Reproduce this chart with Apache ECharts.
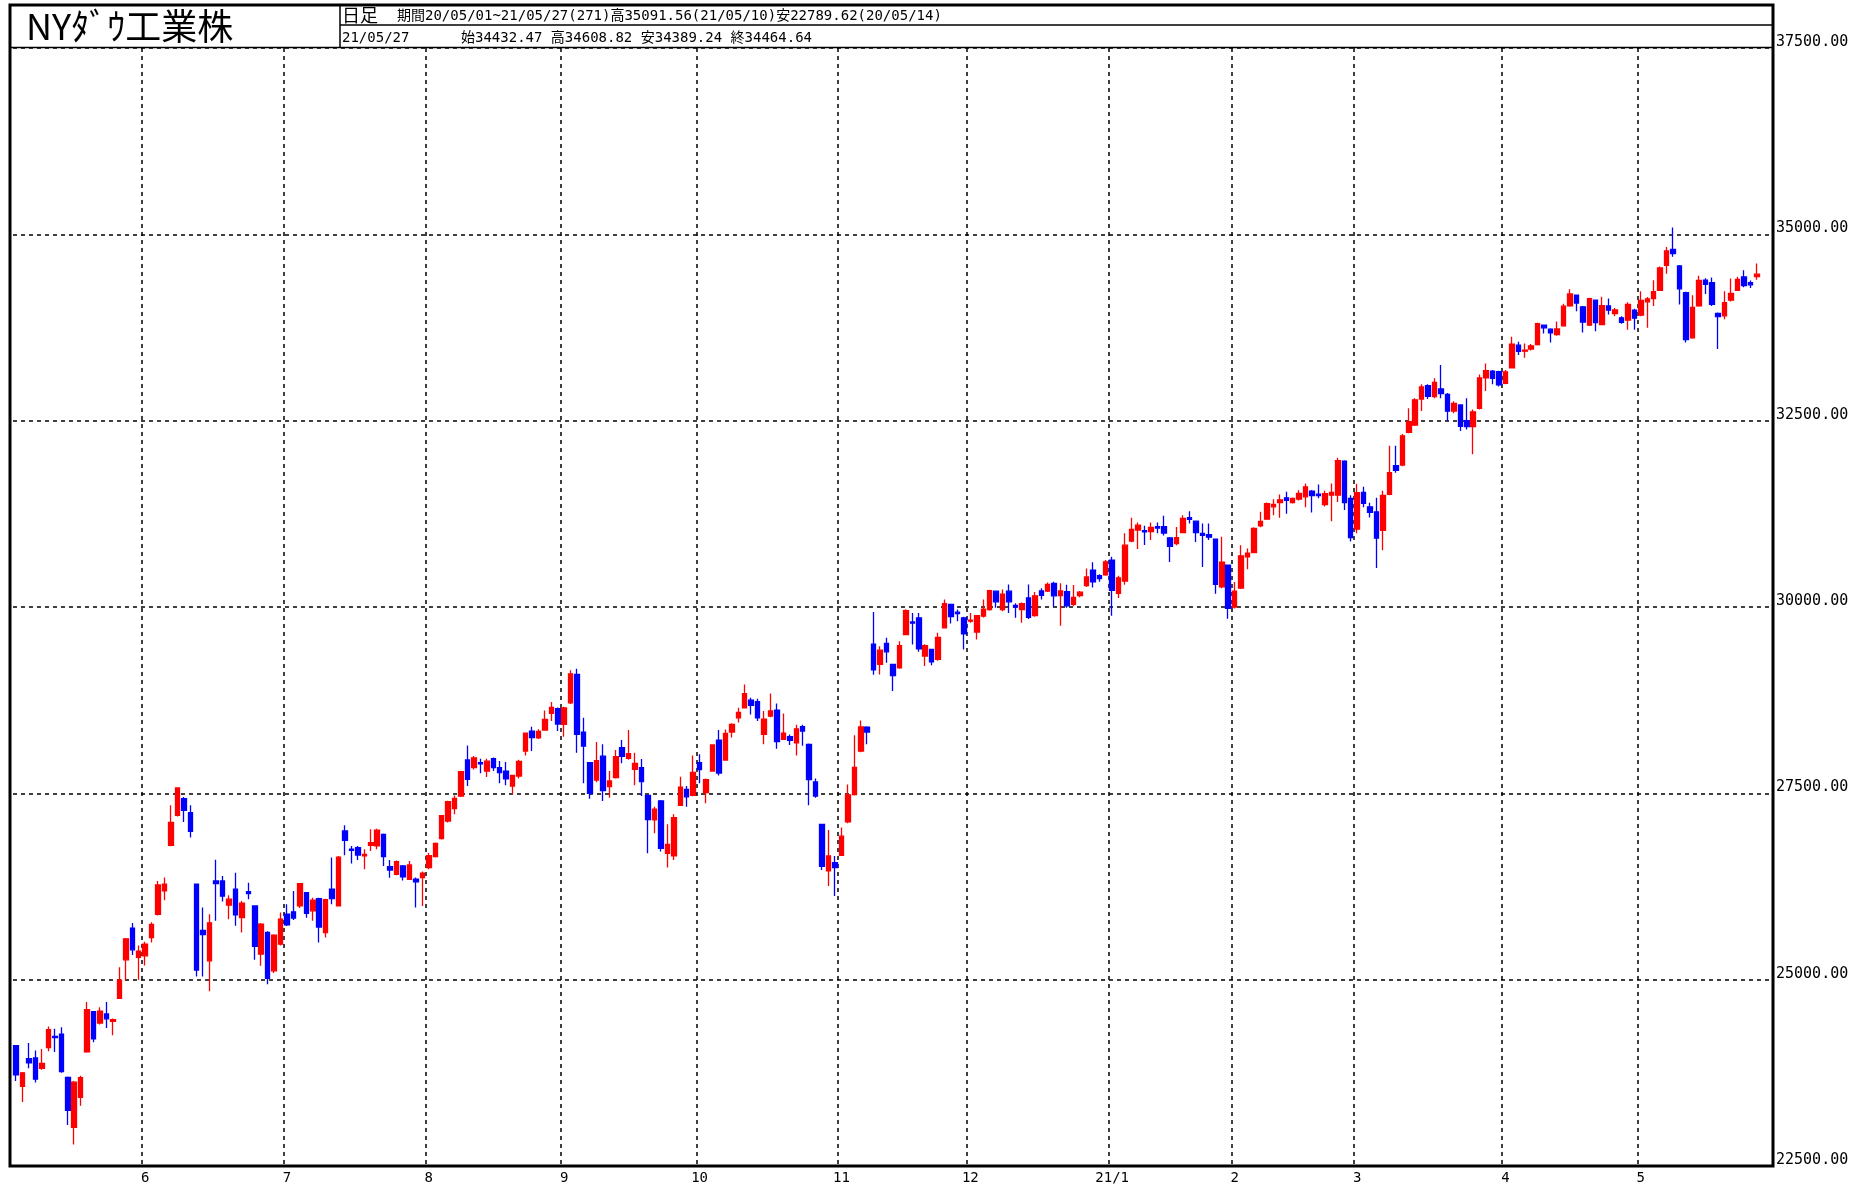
<!DOCTYPE html>
<html>
<head>
<meta charset="utf-8">
<title>NYダウ工業株 日足</title>
<script src="https://cdn.jsdelivr.net/npm/echarts@6/dist/echarts.min.js"></script>
<style>
  html, body { margin: 0; padding: 0; background: #fff; }
  #chart { width: 1862px; height: 1186px; }
</style>
</head>
<body>
<div id="chart"></div>
<script>
// NYダウ 日足 2020/05/01 - 2021/05/27 (271本)
const startDate = '2020-05-01';
const endDate = '2021-05-27';
const holidays = ['2020-05-25', '2020-07-03', '2020-09-07', '2020-11-26', '2020-12-25',
  '2021-01-01', '2021-01-18', '2021-02-15', '2021-04-02'];
const monthLabels = ['6', '7', '8', '9', '10', '11', '12', '21/1', '2', '3', '4', '5'];
const yTicks = { min: 22500, max: 37500, step: 2500 };

const opens = [
  24114, 23569, 23940, 23950, 23810, 24090, 24240, 24270, 23690, 23020,
  23420, 24030, 24570, 24417, 24540, 24440, 24748, 25266, 25690, 25300,
  25320, 25566, 25878, 26191, 26803, 27205, 27429, 27241, 26280, 25660,
  25253, 26325, 26325, 25999, 26214, 25834, 26180, 25990, 25342, 25633,
  25119, 25476, 25878, 25910, 25990, 26169, 25923, 26088, 25632, 26213,
  25990, 26995, 26750, 26772, 26660, 26803, 26794, 26950, 26517, 26414,
  26526, 26347, 26347, 26369, 26503, 26651, 26893, 27129, 27294, 27464,
  27947, 27844, 27911, 27799, 27964, 27844, 27799, 27598, 27732, 28067,
  28335, 28246, 28349, 28572, 28635, 28425, 28715, 29095, 28322, 27911,
  27679, 27999, 27589, 27710, 28112, 27969, 27821, 27844, 27473, 27143,
  27397, 26696, 26660, 27339, 27554, 27473, 27911, 27509, 27799, 28215,
  27947, 28322, 28514, 28648, 28751, 28729, 28291, 28536, 28617, 28224,
  28260, 28179, 28394, 28157, 27652, 27084, 26459, 26570, 26669, 27116,
  27482, 28067, 28389, 29500, 29229, 29511, 29229, 29185, 29631, 29800,
  29855, 29341, 29430, 29296, 29721, 30034, 29930, 29855, 29810, 29663,
  29877, 29966, 30212, 29966, 30212, 30020, 29966, 30123, 29884, 30215,
  30215, 30318, 30152, 30206, 30036, 30152, 30286, 30496, 30420, 30430,
  30630, 30184, 30349, 30885, 31032, 31025, 31010, 31077, 31077, 30927,
  30851, 30999, 31200, 31151, 30986, 30972, 30909, 30269, 30560, 30000,
  30255, 30672, 30730, 31088, 31178, 31344, 31402, 31465, 31402, 31447,
  31478, 31555, 31514, 31375, 31500, 31500, 31958, 31456, 31044, 31537,
  31344, 31277, 31030, 31510, 31895, 31904, 32343, 32442, 32791, 32970,
  32822, 32925, 32854, 32630, 32710, 32500, 32420, 32665, 33076, 33165,
  33156, 33000, 33210, 33513, 33433, 33460, 33522, 33781, 33728, 33656,
  33772, 34040, 34183, 34027, 33781, 34116, 33790, 34040, 33938, 33880,
  33848, 33982, 33915, 34094, 34138, 34250, 34585, 34799, 34576, 34219,
  33612, 34040, 34384, 34353, 33938, 33906, 34116, 34250, 34428, 34353,
  34432
];
const closes = [
  23724, 23750, 23883, 23665, 23876, 24331, 24222, 23765, 23248, 23625,
  23685, 24597, 24207, 24576, 24474, 24465, 24995, 25548, 25401, 25383,
  25475, 25743, 26270, 26282, 27111, 27572, 27272, 26990, 25128, 25606,
  25763, 26290, 26120, 26080, 25871, 26025, 26156, 25446, 25746, 25016,
  25596, 25813, 25735, 25827, 26287, 25890, 26067, 25706, 26075, 26086,
  26643, 26870, 26735, 26672, 26681, 26840, 27006, 26652, 26470, 26585,
  26379, 26540, 26314, 26428, 26664, 26828, 27202, 27387, 27433, 27791,
  27687, 27977, 27897, 27931, 27845, 27778, 27693, 27740, 27930, 28308,
  28248, 28332, 28492, 28654, 28430, 28646, 29101, 28293, 28133, 27501,
  27940, 27535, 27666, 27993, 27996, 28032, 27902, 27657, 27148, 27288,
  26763, 26815, 27174, 27584, 27453, 27782, 27817, 27683, 28149, 27773,
  28303, 28426, 28587, 28838, 28680, 28514, 28494, 28606, 28195, 28309,
  28211, 28364, 28336, 27685, 27463, 26520, 26659, 26502, 26925, 27480,
  27848, 28390, 28323, 29158, 29421, 29398, 29080, 29480, 29950, 29783,
  29438, 29483, 29263, 29591, 30046, 29872, 29910, 29639, 29824, 29884,
  29970, 30218, 30070, 30174, 30069, 29999, 30046, 29862, 30150, 30155,
  30303, 30150, 30216, 30016, 30130, 30199, 30404, 30336, 30380, 30606,
  30224, 30392, 30829, 31041, 31098, 31009, 31069, 31060, 30992, 30814,
  30930, 31188, 31176, 30997, 30960, 30937, 30303, 30603, 29983, 30212,
  30687, 30724, 31056, 31148, 31386, 31376, 31438, 31431, 31458, 31523,
  31613, 31493, 31494, 31522, 31537, 31962, 31402, 30932, 31535, 31392,
  31270, 30924, 31496, 31802, 31833, 32297, 32486, 32779, 32953, 32826,
  33015, 32862, 32628, 32731, 32423, 32420, 32619, 33073, 33171, 33067,
  32982, 33153, 33527, 33430, 33446, 33504, 33801, 33745, 33677, 33731,
  34036, 34201, 34078, 33821, 34137, 33816, 34043, 33982, 33985, 33820,
  34060, 33875, 34113, 34133, 34230, 34549, 34778, 34743, 34269, 33588,
  34021, 34382, 34328, 34061, 33896, 34084, 34208, 34394, 34312, 34323,
  34465
];
const lows = [
  23640, 23360, 23810, 23620, 23790, 24040, 24030, 23750, 23050, 22790,
  23310, 24020, 24160, 24400, 24350, 24255, 24740, 24990, 25330, 25000,
  25190, 25500, 25860, 26066, 26790, 27190, 27116, 26906, 25043, 25043,
  24843, 25789, 26050, 25812, 25722, 25633, 26080, 25267, 25186, 24940,
  25090, 25460, 25720, 25800, 25960, 25830, 25789, 25498, 25565, 26012,
  25980, 26669, 26558, 26606, 26481, 26727, 26749, 26526, 26369, 26400,
  26330, 26340, 25967, 25990, 26480, 26640, 26880, 27110, 27218, 27450,
  27598, 27820, 27768, 27720, 27800, 27634, 27607, 27487, 27700, 28009,
  28067, 28230, 28340, 28469, 28335, 28260, 28700, 28045, 27634, 27428,
  27650, 27397, 27442, 27700, 27902, 27950, 27607, 27464, 26696, 26964,
  26720, 26504, 26606, 27330, 27321, 27460, 27634, 27366, 27790, 27740,
  27940, 28250, 28450, 28640, 28559, 28470, 28157, 28520, 28099, 28215,
  28150, 28009, 28140, 27339, 27440, 26470, 26258, 26124, 26660, 27100,
  27470, 28050, 28157, 29090, 29095, 29252, 28872, 29170, 29620, 29497,
  29400, 29207, 29220, 29280, 29710, 29779, 29810, 29430, 29790, 29565,
  29860, 29950, 29990, 29944, 29921, 29855, 29788, 29840, 29870, 30100,
  30200, 30005, 29750, 29990, 30010, 30130, 30270, 30260, 30340, 30420,
  29884, 30120, 30300, 30870, 30778, 30831, 30898, 30990, 30960, 30605,
  30830, 30990, 31120, 30873, 30537, 30900, 30179, 30250, 29843, 29980,
  30240, 30506, 30720, 31070, 31170, 31232, 31196, 31250, 31390, 31430,
  31340, 31268, 31460, 31350, 31151, 31410, 31300, 30880, 30990, 31340,
  31200, 30524, 30762, 31500, 31800, 31890, 32330, 32430, 32630, 32790,
  32800, 32800, 32495, 32600, 32361, 32380, 32050, 32650, 32897, 32990,
  32960, 32990, 33200, 33380, 33344, 33440, 33510, 33670, 33549, 33640,
  33760, 34030, 33969, 33683, 33770, 33701, 33780, 33924, 33900, 33800,
  33720, 33720, 33900, 33746, 34040, 34240, 34470, 34700, 34058, 33549,
  33600, 34030, 34200, 34040, 33460, 33860, 34100, 34240, 34290, 34280,
  34389
];
const highs = [
  24120, 23760, 24150, 24050, 24070, 24370, 24340, 24360, 23700, 23640,
  23710, 24700, 24580, 24630, 24700, 24480, 25165, 25560, 25760, 25460,
  25510, 25770, 26325, 26370, 27340, 27580, 27450, 27340, 26290, 25968,
  25878, 26610, 26390, 26134, 26435, 26057, 26300, 26000, 25760, 25650,
  25610, 25900, 26012, 26190, 26295, 26175, 26100, 26100, 26085, 26638,
  26660, 27071, 26794, 26794, 26749, 27017, 27026, 26960, 26606, 26600,
  26540, 26593, 26370, 26450, 26700, 26840, 27210, 27400, 27470, 27800,
  28143, 28000, 27964, 27964, 27980, 27933, 27920, 27750, 27950, 28313,
  28393, 28360, 28612, 28724, 28650, 28660, 29152, 29170, 28514, 27920,
  28188, 28157, 27799, 28081, 28215, 28349, 28045, 27960, 27480, 27320,
  27410, 27084, 27218, 27723, 27598, 28009, 28023, 27700, 28160, 28349,
  28358, 28440, 28648, 28961, 28782, 28770, 28603, 28840, 28706, 28572,
  28290, 28420, 28420, 28170, 27700, 27090, 27009, 26660, 27040, 27620,
  28278, 28478, 28400, 29933, 29475, 29587, 29240, 29540, 29970, 29921,
  29921, 29500, 29440, 29654, 30100, 30040, 29966, 29870, 29921, 29890,
  30100, 30230, 30220, 30235, 30302, 30050, 30060, 30302, 30200, 30250,
  30330, 30340, 30320, 30300, 30295, 30215, 30518, 30600, 30440, 30630,
  30675, 30420, 30988, 31198, 31135, 31090, 31135, 31135, 31224, 30940,
  31075, 31232, 31286, 31160, 31120, 31120, 30920, 30941, 30570, 30336,
  30829, 30784, 31070, 31277, 31402, 31447, 31510, 31546, 31470, 31568,
  31657, 31570, 31644, 31560, 31657, 32003, 31970, 31500, 31653, 31613,
  31400, 31465, 31560, 32164, 32164, 32320, 32665, 32800, 32990, 32988,
  33069, 33248, 32870, 32760, 32720, 32800, 32650, 33120, 33268, 33180,
  33170, 33180, 33625, 33560, 33536, 33530, 33815, 33790, 33740, 33830,
  34070, 34263, 34190, 34040, 34150, 34125, 34161, 34138, 34010, 33900,
  34090, 34000, 34235, 34160, 34384, 34570, 34830, 35092, 34590, 34230,
  34183, 34445, 34410, 34420, 33950, 34237, 34406, 34430, 34518, 34380,
  34609
];

// 営業日の日付を作る（週末と休場日を除く）
function tradingDays(from, to, skip) {
  const out = [];
  const d = new Date(from + 'T00:00:00Z');
  const last = new Date(to + 'T00:00:00Z');
  while (d <= last) {
    const s = d.toISOString().slice(0, 10);
    const wd = d.getUTCDay();
    if (wd !== 0 && wd !== 6 && skip.indexOf(s) < 0) out.push(s);
    d.setUTCDate(d.getUTCDate() + 1);
  }
  return out;
}
const dates = tradingDays(startDate, endDate, holidays);
// 右側の余白 2 本分
const categories = dates.concat(['', '']);

// 月初のインデックスとラベル
const monthStart = {};
let k = 0;
for (let i = 1; i < dates.length; i++) {
  if (dates[i].slice(5, 7) !== dates[i - 1].slice(5, 7)) {
    monthStart[i] = monthLabels[k++];
  }
}

const candleData = dates.map((d, i) => [opens[i], closes[i], lows[i], highs[i]]);

const monoFont = "'DejaVu Sans Mono', 'Noto Sans CJK JP', monospace";
const gridDash = { color: '#000', width: 1.5, type: [4, 4] };

const chart = echarts.init(document.getElementById('chart'), null, { renderer: 'canvas' });
chart.setOption({
  animation: false,
  backgroundColor: '#fff',
  grid: { left: 13, right: 89, top: 48, bottom: 20 },
  xAxis: {
    type: 'category',
    data: categories,
    boundaryGap: true,
    axisLine: { show: false },
    axisTick: { show: false },
    axisLabel: {
      interval: (i) => monthStart[i] !== undefined,
      formatter: (v, i) => monthStart[i] || '',
      color: '#000',
      fontFamily: monoFont,
      fontSize: 14,
      margin: 5
    },
    splitLine: {
      show: true,
      interval: (i) => monthStart[i] !== undefined,
      lineStyle: gridDash
    }
  },
  yAxis: {
    type: 'value',
    position: 'right',
    min: yTicks.min,
    max: yTicks.max,
    interval: yTicks.step,
    axisLine: { show: false },
    axisTick: { show: false },
    axisLabel: {
      formatter: (v) => v.toFixed(2),
      color: '#000',
      fontFamily: monoFont,
      fontSize: 15,
      lineHeight: 12,
      verticalAlign: 'bottom',
      margin: 3
    },
    splitLine: { show: true, lineStyle: gridDash }
  },
  series: [{
    type: 'candlestick',
    data: candleData,
    barWidth: 5,
    itemStyle: {
      color: '#ff0000',
      color0: '#0000ff',
      borderColor: '#ff0000',
      borderColor0: '#0000ff',
      borderWidth: 1.3
    }
  }],
  graphic: [
    // 枠
    { type: 'rect', z: 100, shape: { x: 10, y: 5, width: 1763, height: 1161 },
      style: { fill: null, stroke: '#000', lineWidth: 3 } },
    { type: 'line', z: 100, shape: { x1: 10, y1: 47.5, x2: 1773, y2: 47.5 },
      style: { stroke: '#000', lineWidth: 1.5 } },
    { type: 'line', z: 100, shape: { x1: 340, y1: 5, x2: 340, y2: 47.5 },
      style: { stroke: '#000', lineWidth: 1.5 } },
    { type: 'line', z: 100, shape: { x1: 340, y1: 25, x2: 1773, y2: 25 },
      style: { stroke: '#000', lineWidth: 1.5 } },
    // タイトルと四本値
    { type: 'text', z: 100, style: { text: 'NYﾀﾞｳ工業株', x: 26, y: 8,
      font: "36px 'Noto Sans CJK JP'", fill: '#000', textVerticalAlign: 'top', verticalAlign: 'top' } },
    { type: 'text', z: 100, style: { text: '日足', x: 342, y: 6,
      font: "18px 'Noto Sans CJK JP'", fill: '#000', textVerticalAlign: 'top', verticalAlign: 'top' } },
    { type: 'text', z: 100, style: { text: '期間20/05/01~21/05/27(271)高35091.56(21/05/10)安22789.62(20/05/14)', x: 397, y: 9,
      font: "14px " + monoFont, fill: '#000', textVerticalAlign: 'top', verticalAlign: 'top' } },
    { type: 'text', z: 100, style: { text: '21/05/27', x: 342, y: 31,
      font: "14px " + monoFont, fill: '#000', textVerticalAlign: 'top', verticalAlign: 'top' } },
    { type: 'text', z: 100, style: { text: '始34432.47 高34608.82 安34389.24 終34464.64', x: 461, y: 31,
      font: "14px " + monoFont, fill: '#000', textVerticalAlign: 'top', verticalAlign: 'top' } }
  ]
});
</script>
</body>
</html>
